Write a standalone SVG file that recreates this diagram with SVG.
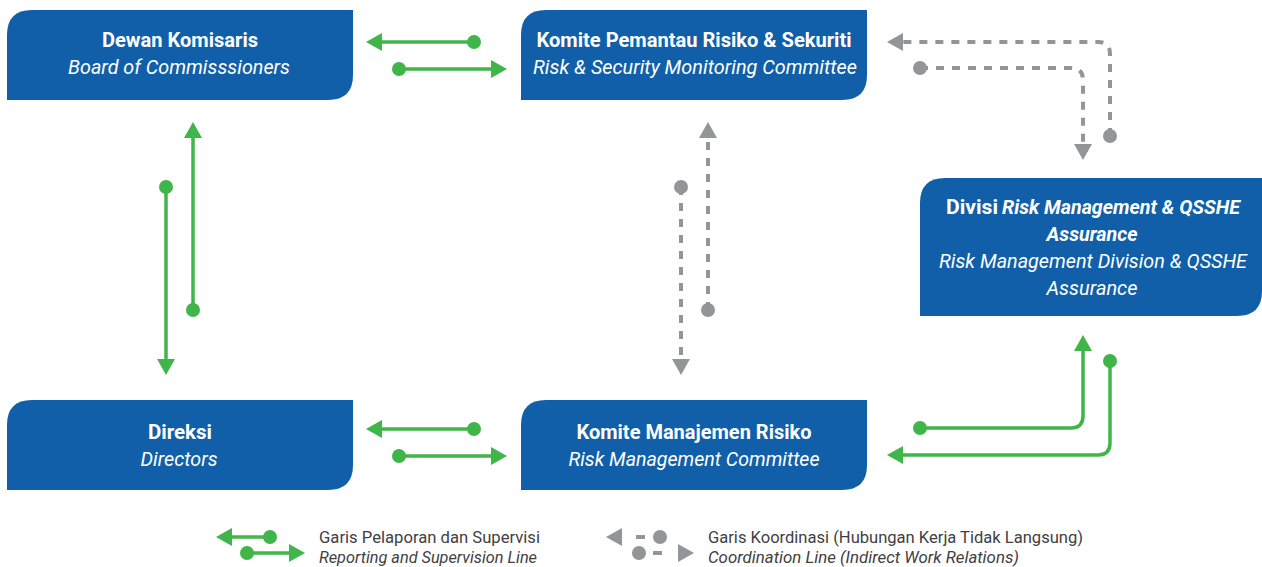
<svg xmlns="http://www.w3.org/2000/svg" width="1262" height="567" viewBox="0 0 1262 567">
  <style>
    .box { fill: #115FA9; }
    .t { font-family: Roboto, "Liberation Sans", sans-serif; fill: #ffffff; font-size: 20px; text-anchor: middle; dominant-baseline: central; }
    .b { font-weight: 700; }
    .i { font-style: italic; }
    .rep { fill: none; stroke: #3FB54A; stroke-width: 3.5; }
    .coord { fill: none; stroke: #939598; stroke-width: 4; stroke-dasharray: 8 8; }
    .lg { font-family: Roboto, "Liberation Sans", sans-serif; fill: #414042; font-size: 16px; dominant-baseline: central; }
  </style>
  <defs>
    <marker id="arrG" markerUnits="userSpaceOnUse" markerWidth="18" markerHeight="20" refX="0" refY="9" orient="auto" viewBox="0 0 18 18">
      <path d="M0,0 L16,9 L0,18 Z" fill="#3FB54A"/>
    </marker>
    <marker id="dotG" markerUnits="userSpaceOnUse" markerWidth="16" markerHeight="16" refX="8" refY="8" viewBox="0 0 16 16">
      <circle cx="8" cy="8" r="7" fill="#3FB54A"/>
    </marker>
    <marker id="arrD" markerUnits="userSpaceOnUse" markerWidth="18" markerHeight="20" refX="0" refY="9" orient="auto" viewBox="0 0 18 18">
      <path d="M0,0 L16,9 L0,18 Z" fill="#939598"/>
    </marker>
    <marker id="dotD" markerUnits="userSpaceOnUse" markerWidth="16" markerHeight="16" refX="8" refY="8" viewBox="0 0 16 16">
      <circle cx="8" cy="8" r="7" fill="#939598"/>
    </marker>
  </defs>

  <!-- nodes: square top-right / bottom-left, rounded top-left / bottom-right -->
  <g id="dewan-komisaris">
    <path class="box" d="M7,100 V35 Q7,10 32,10 H353 V75 Q353,100 328,100 Z"/>
    <text class="t b" x="180" y="40" textLength="156" lengthAdjust="spacingAndGlyphs">Dewan Komisaris</text>
    <text class="t i" x="179" y="67" textLength="222" lengthAdjust="spacingAndGlyphs">Board of Commisssioners</text>
  </g>

  <g id="komite-pemantau">
    <path class="box" d="M521,100 V35 Q521,10 546,10 H867 V75 Q867,100 842,100 Z"/>
    <text class="t b" x="694" y="40" textLength="315" lengthAdjust="spacingAndGlyphs">Komite Pemantau Risiko &amp; Sekuriti</text>
    <text class="t i" x="695" y="67" textLength="324" lengthAdjust="spacingAndGlyphs">Risk &amp; Security Monitoring Committee</text>
  </g>

  <g id="divisi-rm-qsshe">
    <path class="box" d="M920,316 V203 Q920,178 945,178 H1262 V291 Q1262,316 1237,316 Z"/>
    <text class="t b" y="207"><tspan x="972" textLength="52" lengthAdjust="spacingAndGlyphs">Divisi</tspan><tspan class="i" x="1121" textLength="238" lengthAdjust="spacingAndGlyphs">Risk Management &amp; QSSHE</tspan></text>
    <text class="t b i" x="1092" y="234" textLength="91" lengthAdjust="spacingAndGlyphs">Assurance</text>
    <text class="t i" x="1093" y="261" textLength="308" lengthAdjust="spacingAndGlyphs">Risk Management Division &amp; QSSHE</text>
    <text class="t i" x="1092" y="288" textLength="91" lengthAdjust="spacingAndGlyphs">Assurance</text>
  </g>

  <g id="direksi">
    <path class="box" d="M7,490 V425 Q7,400 32,400 H353 V465 Q353,490 328,490 Z"/>
    <text class="t b" x="180" y="432" textLength="64" lengthAdjust="spacingAndGlyphs">Direksi</text>
    <text class="t i" x="179" y="459" textLength="77" lengthAdjust="spacingAndGlyphs">Directors</text>
  </g>

  <g id="komite-manajemen-risiko">
    <path class="box" d="M521,490 V425 Q521,400 546,400 H867 V465 Q867,490 842,490 Z"/>
    <text class="t b" x="694" y="432" textLength="235" lengthAdjust="spacingAndGlyphs">Komite Manajemen Risiko</text>
    <text class="t i" x="694" y="459" textLength="251" lengthAdjust="spacingAndGlyphs">Risk Management Committee</text>
  </g>

  <!-- connectors -->
  <g id="connectors">
    <!-- reporting and supervision lines -->
    <path class="rep" d="M474,42 H382" marker-start="url(#dotG)" marker-end="url(#arrG)"/>
    <path class="rep" d="M399,69 H491" marker-start="url(#dotG)" marker-end="url(#arrG)"/>
    <path class="rep" d="M166,187 V359" marker-start="url(#dotG)" marker-end="url(#arrG)"/>
    <path class="rep" d="M193,310 V138" marker-start="url(#dotG)" marker-end="url(#arrG)"/>
    <path class="rep" d="M474,429 H382" marker-start="url(#dotG)" marker-end="url(#arrG)"/>
    <path class="rep" d="M399,456 H491" marker-start="url(#dotG)" marker-end="url(#arrG)"/>
    <path class="rep" d="M920,428 H1071 Q1083,428 1083,416 V351" marker-start="url(#dotG)" marker-end="url(#arrG)"/>
    <path class="rep" d="M1110,361 V443 Q1110,455 1098,455 H903" marker-start="url(#dotG)" marker-end="url(#arrG)"/>

    <!-- coordination lines -->
    <path class="coord" d="M681,187 V359" marker-start="url(#dotD)" marker-end="url(#arrD)"/>
    <path class="coord" d="M708,310 V138" marker-start="url(#dotD)" marker-end="url(#arrD)"/>
    <path class="coord" d="M1110,136 V54 Q1110,42 1098,42 H903" marker-start="url(#dotD)" marker-end="url(#arrD)"/>
    <path class="coord" d="M920,68 H1071 Q1083,68 1083,80 V144" marker-start="url(#dotD)" marker-end="url(#arrD)"/>
  </g>

  <!-- legend -->
  <g id="legend">
    <path class="rep" d="M270,537 H232" marker-start="url(#dotG)" marker-end="url(#arrG)"/>
    <path class="rep" d="M247,553 H289" marker-start="url(#dotG)" marker-end="url(#arrG)"/>
    <text class="lg" x="319" y="537" textLength="221" lengthAdjust="spacingAndGlyphs">Garis Pelaporan dan Supervisi</text>
    <text class="lg" x="319" y="557" font-style="italic" textLength="218" lengthAdjust="spacingAndGlyphs">Reporting and Supervision Line</text>

    <circle cx="660" cy="537" r="7" fill="#939598"/>
    <path d="M645,537 H622" fill="none" stroke="#939598" stroke-width="4" stroke-dasharray="9 20" marker-end="url(#arrD)"/>
    <circle cx="639" cy="553" r="7" fill="#939598"/>
    <path d="M653,553 H678" fill="none" stroke="#939598" stroke-width="4" stroke-dasharray="9 20" marker-end="url(#arrD)"/>
    <text class="lg" x="708" y="537" textLength="375" lengthAdjust="spacingAndGlyphs">Garis Koordinasi (Hubungan Kerja Tidak Langsung)</text>
    <text class="lg" x="708" y="557" font-style="italic" textLength="311" lengthAdjust="spacingAndGlyphs">Coordination Line (Indirect Work Relations)</text>
  </g>
</svg>
